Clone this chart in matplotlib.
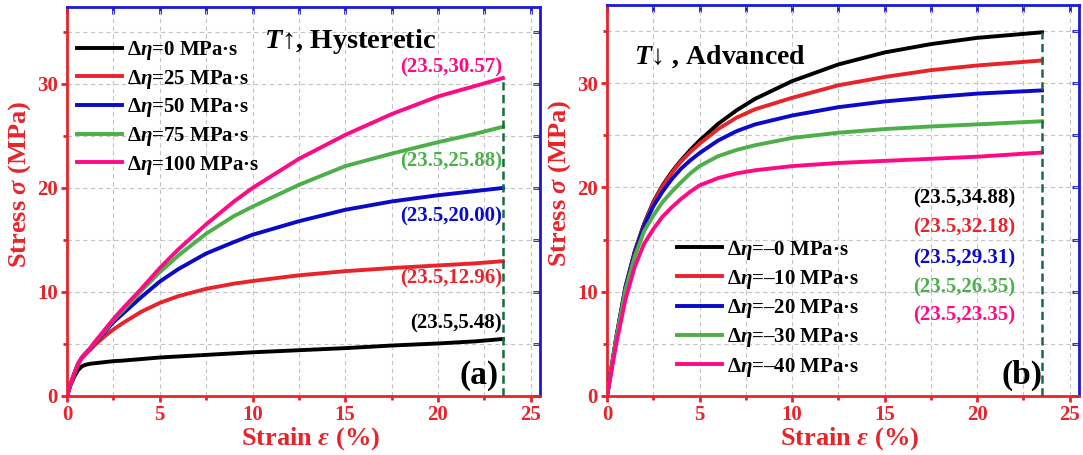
import numpy as np
import matplotlib.pyplot as plt
from matplotlib.ticker import MultipleLocator

plt.rcParams['font.family'] = ['Liberation Serif', 'DejaVu Serif']
plt.rcParams['font.weight'] = 'bold'
plt.rcParams['mathtext.fontset'] = 'custom'
plt.rcParams['mathtext.rm'] = 'Liberation Serif:bold'
plt.rcParams['mathtext.it'] = 'Liberation Serif:italic:bold'
plt.rcParams['mathtext.bf'] = 'Liberation Serif:bold'

# ---- data panel (a) : T up, hysteretic
strain_a = [0, 0.2, 0.4, 0.6, 0.8, 1, 1.25, 1.5, 2, 2.5, 3, 4, 5, 6, 7.5, 9, 10, 12.5, 15, 17.5, 20, 22, 23.5]
stress_a = {
    "0":   [0, 1.1, 1.9, 2.5, 2.85, 3.0, 3.1, 3.15, 3.25, 3.35, 3.4, 3.55, 3.7, 3.8, 3.95, 4.1, 4.2, 4.4, 4.6, 4.85, 5.05, 5.25, 5.48],
    "25":  [0, 1.2, 2.2, 3.1, 3.65, 4.0, 4.45, 4.9, 5.7, 6.4, 7.0, 8.1, 8.95, 9.6, 10.3, 10.8, 11.05, 11.6, 12.0, 12.3, 12.55, 12.75, 12.96],
    "50":  [0, 1.2, 2.2, 3.1, 3.7, 4.1, 4.55, 5.1, 6.1, 7.1, 7.9, 9.5, 11.0, 12.2, 13.7, 14.8, 15.5, 16.8, 17.9, 18.7, 19.3, 19.7, 20.0],
    "75":  [0, 1.2, 2.2, 3.1, 3.7, 4.1, 4.6, 5.15, 6.2, 7.3, 8.2, 10.1, 11.9, 13.5, 15.6, 17.3, 18.2, 20.3, 22.1, 23.3, 24.4, 25.2, 25.88],
    "100": [0, 1.2, 2.2, 3.1, 3.7, 4.1, 4.6, 5.2, 6.3, 7.4, 8.4, 10.3, 12.3, 14.1, 16.5, 18.7, 20.0, 22.8, 25.1, 27.1, 28.8, 29.8, 30.57],
}
end_a = {"0": "(23.5,5.48)", "25": "(23.5,12.96)", "50": "(23.5,20.00)",
         "75": "(23.5,25.88)", "100": "(23.5,30.57)"}
lab_y_a = {"0": 7.0, "25": 11.25, "50": 17.3, "75": 22.5, "100": 31.6}

# ---- data panel (b) : T down, advanced
strain_b = [0, 0.5, 1, 1.5, 2, 2.5, 3, 3.5, 4, 4.5, 5, 6, 7, 8, 10, 12.5, 15, 17.5, 20, 23.5]
stress_b = {
    "0":  [0, 5.6, 10.5, 13.9, 16.5, 18.6, 20.2, 21.5, 22.6, 23.6, 24.5, 26.1, 27.4, 28.5, 30.2, 31.8, 32.95, 33.75, 34.35, 34.88],
    "10": [0, 5.6, 10.4, 13.8, 16.4, 18.5, 20.1, 21.4, 22.5, 23.4, 24.2, 25.6, 26.7, 27.5, 28.6, 29.8, 30.6, 31.25, 31.7, 32.18],
    "20": [0, 5.6, 10.4, 13.7, 16.3, 18.2, 19.6, 20.8, 21.8, 22.6, 23.3, 24.5, 25.4, 26.05, 26.9, 27.7, 28.25, 28.65, 29.0, 29.31],
    "30": [0, 5.5, 10.2, 13.4, 15.8, 17.3, 18.6, 19.6, 20.5, 21.35, 22.05, 23.0, 23.6, 24.05, 24.75, 25.25, 25.6, 25.85, 26.05, 26.35],
    "40": [0, 5.0, 9.3, 12.4, 14.6, 16.0, 17.2, 18.1, 18.9, 19.6, 20.2, 20.9, 21.35, 21.65, 22.05, 22.35, 22.55, 22.75, 22.95, 23.35],
}
end_b = {"0": "(23.5,34.88)", "10": "(23.5,32.18)", "20": "(23.5,29.31)",
         "30": "(23.5,26.35)", "40": "(23.5,23.35)"}
lab_y_b = {"0": 18.9, "10": 16.2, "20": 13.2, "30": 10.4, "40": 7.7}

colors = ["#000000", "#e8242a", "#0a0ac8", "#4caf4a", "#ff0a84"]
red = "#e8242a"
blue = "#1a1ad8"
vline_col = "#176b40"


def style_axes(ax, ytop):
    ax.set_xlim(0, 25.5)
    ax.set_ylim(0, ytop)
    ax.set_xticks(np.arange(0, 26, 5), [str(v) for v in range(0, 26, 5)],
                  fontweight="bold", fontsize=15)
    ax.set_yticks(np.arange(0, 31, 10), [str(v) for v in range(0, 31, 10)],
                  fontweight="bold", fontsize=15)
    ax.xaxis.set_minor_locator(MultipleLocator(2.5))
    ax.yaxis.set_minor_locator(MultipleLocator(5))
    ax.grid(which="both", ls=(0, (4, 3)), color="#c4c4c4", lw=0.8, zorder=0)
    for s in ["left", "bottom"]:
        ax.spines[s].set_color(red)
        ax.spines[s].set_linewidth(2)
    for s in ["top", "right"]:
        ax.spines[s].set_color(blue)
        ax.spines[s].set_linewidth(2)
    ax.tick_params(which="both", direction="out", colors=red, width=2, pad=2)
    ax.tick_params(which="major", length=4.5)
    ax.tick_params(which="minor", length=3)
    # blue inward ticks on top/right
    ax2 = ax.secondary_xaxis("top")
    ax2.xaxis.set_major_locator(MultipleLocator(2.5))
    ax2.tick_params(which="both", direction="in", colors=blue, width=2,
                    labeltop=False, length=5)
    ax3 = ax.secondary_yaxis("right")
    ax3.yaxis.set_major_locator(MultipleLocator(5))
    ax3.tick_params(which="both", direction="in", colors=blue, width=2,
                    labelright=False, length=5)
    for sec in (ax2, ax3):
        for sp in sec.spines.values():
            sp.set_visible(False)
    ax.set_xlabel(r"Strain $\varepsilon$ (%)", color=red, fontsize=19, fontweight="bold")
    ax.set_ylabel(r"Stress $\sigma$ (MPa)", color=red, fontsize=19, fontweight="bold")
    ax.xaxis.set_label_coords(0.514, -0.075)
    ax.yaxis.set_label_coords(-0.072, 0.545)


fig = plt.figure(figsize=(10.83, 4.55), dpi=100)
ax1 = fig.add_axes([0.0619, 0.1297, 0.4367, 0.855])
ax2 = fig.add_axes([0.5605, 0.1297, 0.4358, 0.8593])

# panel (a)
for (k, ys), c in zip(stress_a.items(), colors):
    ax1.plot(strain_a, ys, color=c, lw=2.8, label=r"$\Delta\eta$=" + k + " MPa·s", zorder=5)
    ax1.text(23.45, lab_y_a[k], end_a[k], color=c, fontsize=15, ha="right", va="center", zorder=6)
ax1.plot([23.5, 23.5], [0, stress_a["100"][-1]], color=vline_col, lw=1.8,
         ls=(0, (3.3, 1.8)), zorder=6)
ax1.text(10.6, 34.1, r"$T$↑, Hysteretic", fontsize=20.5, va="center", ha="left")
ax1.text(22.2, 2.0, "(a)", fontsize=24, ha="center", va="center")
ax1.legend(loc="upper left", bbox_to_anchor=(-0.01, 0.955), frameon=False, fontsize=15,
           handlelength=2.15, handletextpad=0.25, labelspacing=0.27, borderaxespad=0.3)
style_axes(ax1, 37.4)

# panel (b)
for (k, ys), c in zip(stress_b.items(), colors):
    ax2.plot(strain_b, ys, color=c, lw=2.8, label=r"$\Delta\eta$=–" + k + " MPa·s", zorder=5)
    ax2.text(19.28, lab_y_b[k], end_b[k], color=c, fontsize=15, ha="center", va="center", zorder=6)
ax2.plot([23.5, 23.5], [0, stress_b["0"][-1]], color=vline_col, lw=1.8,
         ls=(0, (3.3, 1.8)), zorder=6)
ax2.text(1.48, 32.5, r"$T$↓ , Advanced", fontsize=20, va="center", ha="left")
ax2.text(22.4, 2.0, "(b)", fontsize=24, ha="center", va="center")
ax2.legend(loc="upper left", bbox_to_anchor=(0.117, 0.44), frameon=False, fontsize=15,
           handlelength=2.15, handletextpad=0.25, labelspacing=0.3, borderaxespad=0.3)
style_axes(ax2, 37.5)

plt.savefig("out.png", dpi=100)
